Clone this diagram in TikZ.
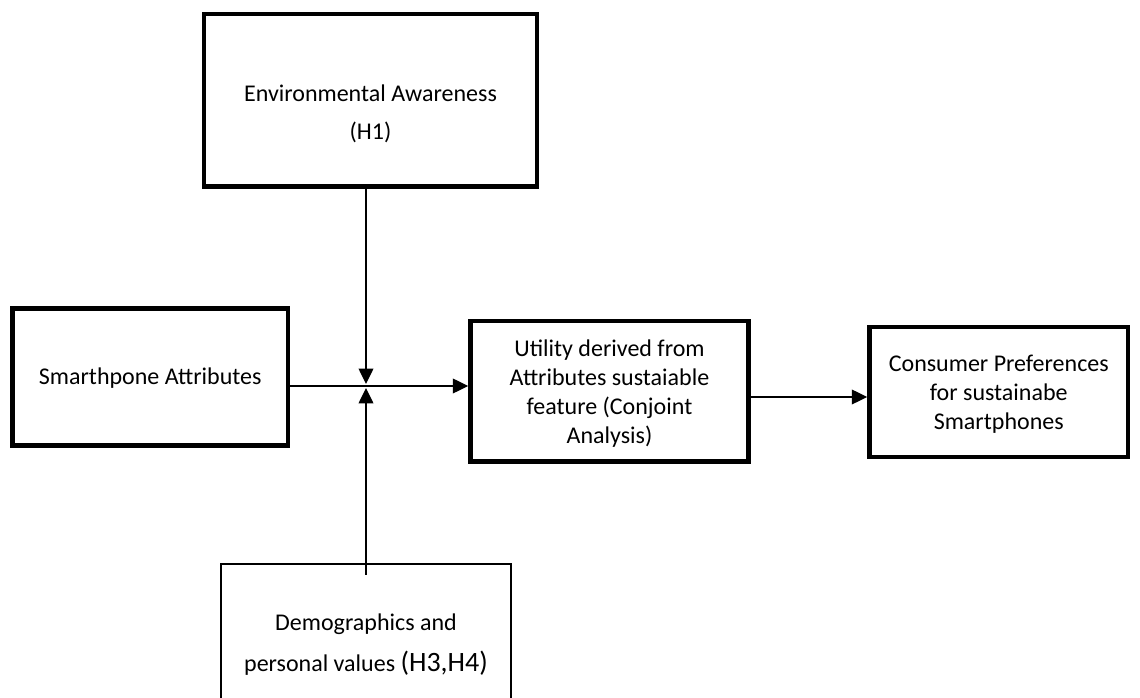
\documentclass[tikz,border=0pt]{standalone}
\usepackage{fontspec}
\setmainfont{Carlito}
\usetikzlibrary{arrows.meta,calc}
\tikzset{every picture/.style={line width=0.75pt}}
\tikzset{
  thickbox/.style={draw, line width=3.4pt, inner sep=0pt},
  thinbox/.style={draw, line width=1.1pt, inner sep=0pt},
  flowarrow/.style={line width=1.1pt, -{Triangle[length=11.5pt,width=11pt]}},
  boxtext/.style={align=center, inner sep=0.75pt, font=\fontsize{18}{21.75}\selectfont},
}

\begin{document}
\begin{tikzpicture}[x=0.75pt,y=0.75pt,yscale=-1,xscale=1]
\useasboundingbox (0,0) rectangle (1140,698);

%Shape: Rectangle [env]
\node[thickbox, minimum width=249.75pt, minimum height=129.4pt] (env) at (370.5,100.25) {};
%Shape: Rectangle [smart]
\node[thickbox, minimum width=206.6pt, minimum height=102.75pt] (smart) at (150.25,377) {};
%Shape: Rectangle [util]
\node[thickbox, minimum width=208.5pt, minimum height=105.4pt] (util) at (609.5,391.25) {};
%Shape: Rectangle [cons]
\node[thickbox, minimum width=193.9pt, minimum height=97.5pt] (cons) at (998.75,392) {};
%Shape: Rectangle [demo]
\node[thinbox, minimum width=217.5pt, minimum height=103.5pt] (demo) at (366,633) {};

\coordinate (junction) at (366,386);
\coordinate (demostart) at (366,575);
\coordinate (outlevel) at (0,397);

%Straight Lines
\draw[flowarrow] (smart.east |- junction) -- (util.west |- junction);
\draw[flowarrow] (env.south -| junction) -- ($(junction)+(0,-2)$);
\draw[flowarrow] (demostart) -- ($(junction)+(0,2)$);
\draw[flowarrow] (util.east |- outlevel) -- (cons.west |- outlevel);

% Text Node
\node[boxtext] (envtext) at (370.5,114) {Environmental Awareness\\[6.75pt](H1)};
% Text Node
\node[boxtext] (smarttext) at (150.25,378) {Smarthpone Attributes};
% Text Node
\node[boxtext] (utiltext) at (609.5,393.5) {Utility derived from\\Attributes sustaiable\\feature (Conjoint\\Analysis)};
% Text Node
\node[boxtext] (constext) at (998.75,394) {Consumer Preferences\\for sustainabe\\Smartphones};
% Text Node
\node[boxtext] (demotext) at (366,645) {Demographics and\\[9pt]personal values {\fontsize{21}{24}\selectfont(H3,H4)}};

\end{tikzpicture}
\end{document}
